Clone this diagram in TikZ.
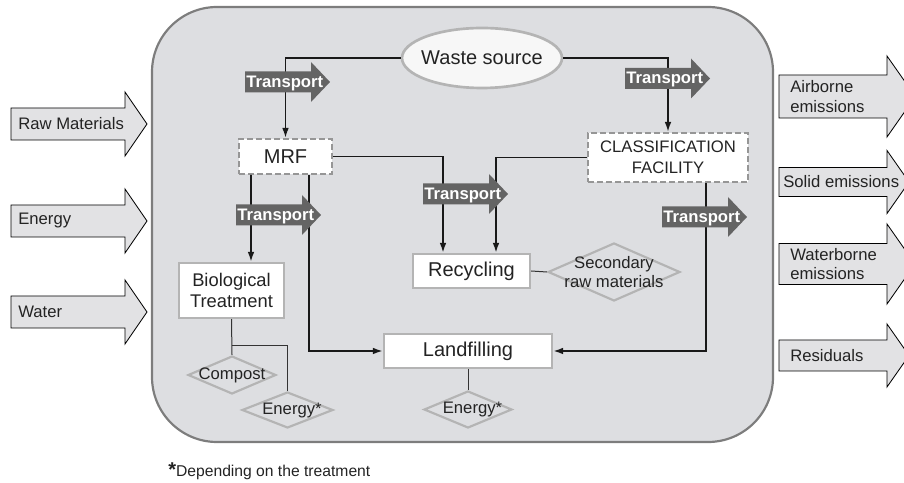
\documentclass[tikz,border=0pt]{standalone}
\usepackage{fontspec}
\setmainfont{Liberation Sans}
\usetikzlibrary{shapes.geometric,arrows.meta}

\definecolor{panelgray}{RGB}{221,222,225}
\definecolor{panelline}{RGB}{125,125,125}
\definecolor{iofill}{RGB}{226,226,228}
\definecolor{trgray}{RGB}{100,100,100}
\definecolor{boxline}{RGB}{180,180,180}
\definecolor{dashline}{RGB}{150,150,150}
\definecolor{inkgray}{RGB}{35,35,35}

\tikzset{
  lbl/.style={font=\fontsize{10}{11.5}\selectfont, text=inkgray, inner sep=0pt},
  bigtxt/.style={font=\fontsize{12}{13}\selectfont, text=inkgray},
  proc/.style={draw=boxline, line width=1.3pt, fill=white, inner sep=0pt, bigtxt},
  facility/.style={proc, draw=dashline, dash pattern=on 3.6pt off 1.8pt, line width=1.2pt},
  product/.style={diamond, draw=boxline, line width=1.3pt, inner sep=0pt},
  flow/.style={line width=1.1pt, black!90, -{Latex[length=6pt,width=4pt]}},
  tie/.style={line width=0.6pt, black!80},
  transport/.pic={
    \fill[trgray] (0,-10.5) -- (66,-10.5) -- (66,-20) -- (85,0) -- (66,20) -- (66,10.5) -- (0,10.5) -- cycle;
    \node[anchor=west, inner sep=0pt, text=white, font=\bfseries\fontsize{10}{12}\selectfont] at (1,-1.5) {Transport};
  }
}

\begin{document}
\begin{tikzpicture}[x=0.6pt, y=0.6pt]
    \useasboundingbox (0,0) rectangle (904,483);
    \clip (0,0) rectangle (904,483);

    % Panel
    \draw[fill=panelgray, draw=panelline, line width=1.3pt, rounded corners=39pt] (152,41) rectangle (773,476);

    % Inputs
    \foreach \nm/\y/\txt in {raw/359/Raw Materials, ene/262/Energy, wat/171/Water}{
      \draw[fill=iofill, line width=0.5pt] (11,\y-16) -- (125,\y-16) -- (125,\y-32) -- (147,\y)
        -- (125,\y+32) -- (125,\y+16) -- (11,\y+16) -- cycle;
      \node[lbl, anchor=west] (\nm) at (18,\y) {\txt};
    }

    % Outputs
    \foreach \nm/\y/\b/\h/\tx/\txt in {air/386.5/21.5/40.5/790/{Airborne\\emissions},
        sol/301/14.5/31.5/783/{Solid emissions}, wbe/219/20.5/40/790/{Waterborne\\emissions},
        res/127.5/15.5/31.5/790/{Residuals}}{
      \draw[fill=iofill, line width=0.5pt] (779,\y-\b) -- (887,\y-\b) -- (887,\y-\h) -- ({887+0.7*\h},\y)
        -- (887,\y+\h) -- (887,\y+\b) -- (779,\y+\b) -- cycle;
      \node[lbl, anchor=west, align=left] (\nm) at (\tx,\y) {\txt};
    }

    % Processes
    \node[ellipse, draw=boxline, fill=white!94!gray, line width=1.6pt, minimum width=96pt, minimum height=36pt,
      inner sep=0pt, label={[bigtxt]center:Waste source}] (src) at (482,425) {};
    \node[facility, minimum width=55.8pt, minimum height=21pt] (mrf) at (285.5,326.5) {MRF};
    \node[facility, minimum width=96pt, minimum height=29.4pt, align=center,
      font=\fontsize{10}{12.6}\selectfont] (cf) at (668,325.5) {CLASSIFICATION\\FACILITY};
    \node[proc, minimum width=70.2pt, minimum height=20.4pt] (rec) at (471.5,212) {Recycling};
    \node[proc, minimum width=100.8pt, minimum height=20.4pt] (lf) at (468,132) {Landfilling};
    \node[proc, minimum width=63pt, minimum height=33pt, align=center,
      font=\fontsize{11}{12.6}\selectfont] (bio) at (231.5,192.5) {Biological\\Treatment};

    % Products
    \node[product, minimum width=79.2pt, minimum height=34.8pt,
      label={[lbl, align=center, font=\fontsize{10}{11.4}\selectfont]center:Secondary\\raw materials}] (sec) at (614,211) {};
    \node[product, minimum width=52.8pt, minimum height=22.8pt, label={[lbl]center:Compost}] (com) at (232,108) {};
    \node[product, minimum width=54.6pt, minimum height=21.6pt, label={[lbl, xshift=2.7pt]center:Energy*}] (en1) at (287.5,73) {};
    \node[product, minimum width=52.8pt, minimum height=22.2pt, label={[lbl, xshift=2.7pt]center:Energy*}] (en2) at (468,73.5) {};

    % Flows
    \draw[flow] (src.west) -| (mrf.north);
    \draw[flow] (src.east) -| (cf.north);
    \draw[flow] (mrf.east) -| ([xshift=-17.1pt]rec.north);
    \draw[flow] (cf.west) -| ([xshift=14.7pt]rec.north);
    \draw[flow] ([xshift=-20.7pt]mrf.south) -- ([xshift=11.7pt]bio.north);
    \draw[flow] ([xshift=14.1pt]mrf.south) |- (lf.west);
    \draw[flow] ([xshift=22.8pt]cf.south) |- (lf.east);

    % Outputs of the treatments
    \draw[tie] (rec.east) -- (sec.west);
    \draw[tie] (lf.south) -- (en2.north);
    \draw[tie] (bio.south) -- (com.north);
    \draw[tie] (bio.south) ++(0,-26) -| (en1.north);

    % Transport
    \pic at (245,401) {transport};
    \pic at (625,404.5) {transport};
    \pic at (236,268) {transport};
    \pic at (423,289) {transport};
    \pic at (662,266) {transport};

    \node[anchor=west, inner sep=0pt, font=\fontsize{9.4}{11}\selectfont, text=inkgray] (note) at (168,12)
      {{\fontsize{12}{12}\selectfont\bfseries *}Depending on the treatment};
\end{tikzpicture}
\end{document}
